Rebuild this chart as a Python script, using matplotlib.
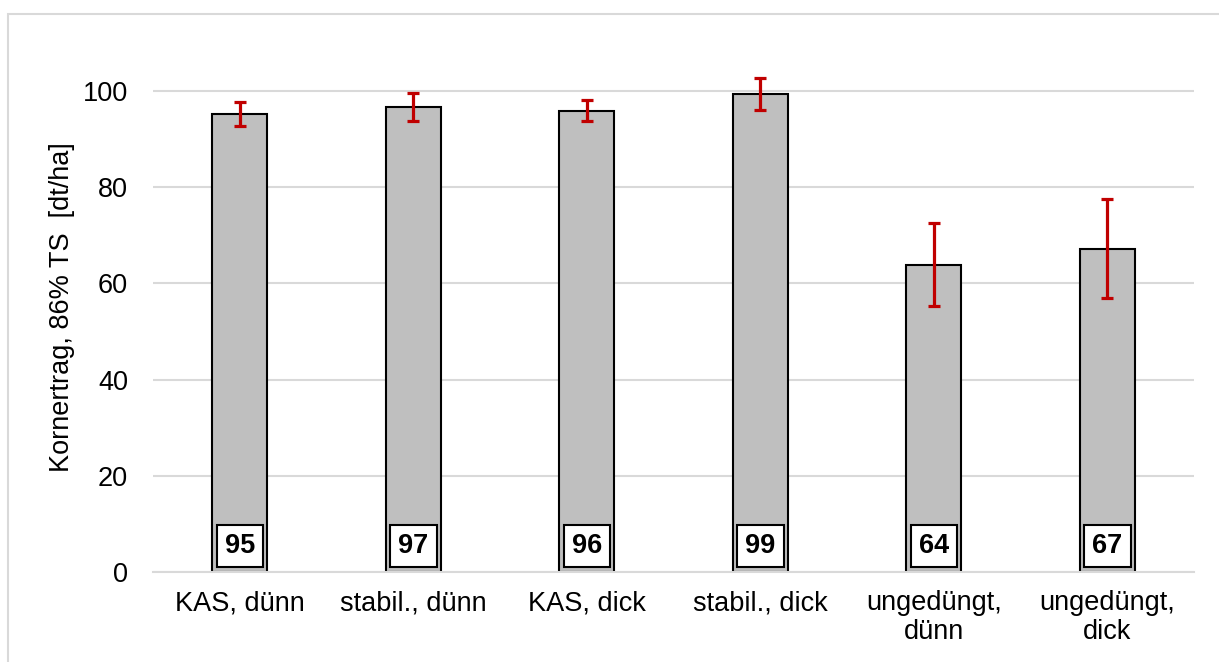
import numpy as np
import matplotlib
matplotlib.use("Agg")
import matplotlib.pyplot as plt
from matplotlib.patches import Rectangle

# --- data ---
categories = ["KAS, dünn", "stabil., dünn", "KAS, dick", "stabil., dick",
              "ungedüngt,\ndünn", "ungedüngt,\ndick"]
yields = [95.2, 96.7, 95.8, 99.4, 63.8, 67.1]
err_hi = [97.6, 99.6, 98.1, 102.7, 72.5, 77.5]
err_lo = [92.7, 93.8, 93.6, 96.0, 55.3, 56.9]
value_labels = ["95", "97", "96", "99", "64", "67"]

plt.rcParams['font.family'] = ['Liberation Sans', 'DejaVu Sans']

W, H = 1219, 662
fig = plt.figure(figsize=(W / 100, H / 100), dpi=100)
ax = fig.add_axes([153 / W, 1 - 572.2 / H, (1194 - 153) / W, (572.2 - 42.5) / H])

# light grey chart frame (Excel style)
fig.patches.append(Rectangle((8 / W, -0.1), 1.2, 1.1 - 14 / H, transform=fig.transFigure,
                             fill=False, edgecolor='#D9D9D9', linewidth=1.5))

x = np.arange(len(categories))
y = np.array(yields)
yerr = np.vstack([y - np.array(err_lo), np.array(err_hi) - y])

ax.bar(x, y, width=0.317, color='#BFBFBF', edgecolor='black', linewidth=1.5, zorder=2)
ax.errorbar(x, y, yerr=yerr, fmt='none', ecolor='#C00000', elinewidth=2.3,
            capsize=4.5, capthick=2.3, zorder=3)

for xi, lab in zip(x, value_labels):
    ax.text(xi, 5.5, lab, ha='center', va='center', fontsize=19.5, fontweight='bold',
            bbox=dict(boxstyle='square,pad=0.3', facecolor='white', edgecolor='black',
                      linewidth=1.5), zorder=4)

ax.set_xlim(-0.5, len(categories) - 0.5)
ax.set_ylim(0, 110)
ax.set_yticks([0, 20, 40, 60, 80, 100])
ax.set_xticks(x)
ax.set_xticklabels(categories, fontsize=19.5, linespacing=1.15)
ax.tick_params(axis='y', labelsize=19.5, length=0, pad=18)
ax.tick_params(axis='x', length=0, pad=13)

ax.grid(axis='y', color='#D9D9D9', linewidth=1.5, zorder=0)
ax.set_axisbelow(True)
for s in ['top', 'right', 'left']:
    ax.spines[s].set_visible(False)
ax.spines['bottom'].set_color('#D9D9D9')
ax.spines['bottom'].set_linewidth(1.5)

ax.set_ylabel("Kornertrag, 86% TS  [dt/ha]", fontsize=19.5)
ax.yaxis.set_label_coords(-0.075, 0.5)

fig.savefig("out.png", dpi=100)
